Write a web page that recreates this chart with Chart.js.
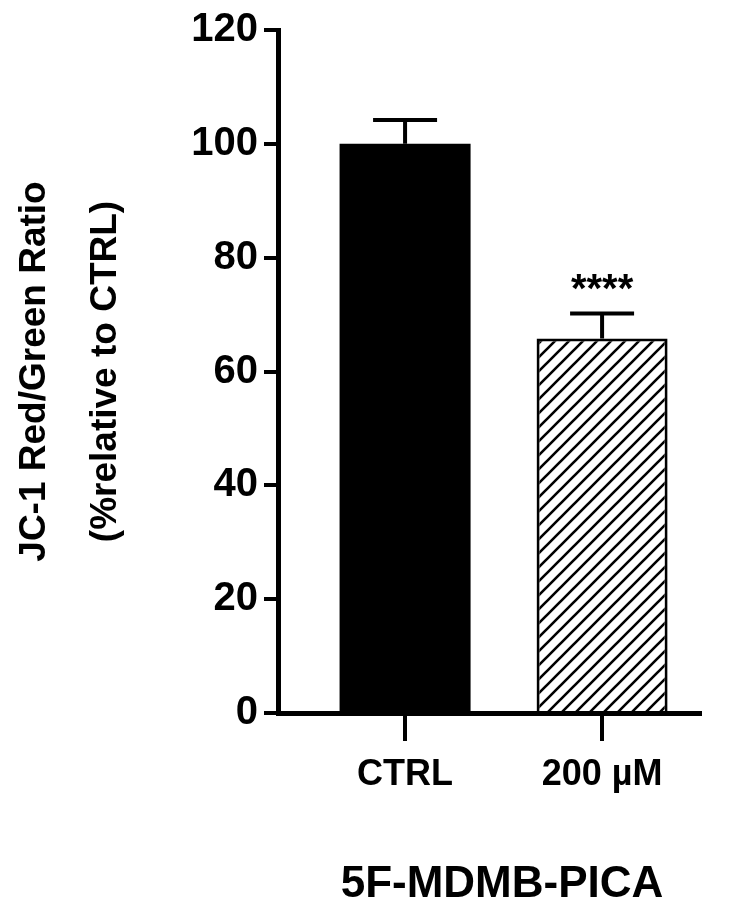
<!DOCTYPE html>
<html><head><meta charset="utf-8">
<script src="https://cdn.jsdelivr.net/npm/chart.js@4"></script>
<style>html,body{margin:0;padding:0;background:#fff}#w{width:745px;height:913px}</style>
</head><body><div id="w"><canvas id="c"></canvas></div>
<script>
const categories = ['CTRL', '200 \u00b5M'];
const means = [100, 65.8];
const errors = [4.2, 4.4];
const significance = ['', '****'];
const yTicks = [0, 20, 40, 60, 80, 100, 120];
const groupTitle = '5F-MDMB-PICA';
const yTitle = ['JC-1 Red/Green Ratio', '(%relative to CTRL)'];

function hatch() {
  const s = 14, c = document.createElement('canvas');
  c.width = s; c.height = s;
  const g = c.getContext('2d');
  g.fillStyle = '#fff'; g.fillRect(0, 0, s, s);
  g.strokeStyle = '#000'; g.lineWidth = 2.6;
  g.beginPath();
  g.moveTo(-2, s + 2); g.lineTo(s + 2, -2);
  g.moveTo(-2, 2); g.lineTo(2, -2);
  g.moveTo(s - 2, s + 2); g.lineTo(s + 2, s - 2);
  g.stroke();
  return document.getElementById('c').getContext('2d').createPattern(c, 'repeat');
}

const F = 'Liberation Sans, Arial, sans-serif';
const extras = {
  id: 'extras',
  afterDatasetsDraw(chart) {
    const ctx = chart.ctx, x = chart.scales.x, y = chart.scales.y;
    ctx.save();
    ctx.strokeStyle = '#000'; ctx.lineWidth = 4; ctx.lineCap = 'butt';
    means.forEach((m, i) => {
      const px = x.getPixelForValue(i), top = y.getPixelForValue(m + errors[i]), b = y.getPixelForValue(m);
      ctx.beginPath();
      ctx.moveTo(px, b); ctx.lineTo(px, top);
      ctx.moveTo(px - 32, top); ctx.lineTo(px + 32, top);
      ctx.stroke();
      if (significance[i]) {
        ctx.fillStyle = '#000'; ctx.font = 'bold 40px ' + F;
        ctx.textAlign = 'center'; ctx.textBaseline = 'middle';
        ctx.fillText(significance[i], px, top - 22);
      }
    });
    ctx.fillStyle = '#000'; ctx.font = 'bold 44px ' + F;
    ctx.textAlign = 'center'; ctx.textBaseline = 'middle';
    ctx.fillText(groupTitle, 502, 885);
    ctx.restore();
  }
};

new Chart(document.getElementById('c'), {
  type: 'bar',
  data: {
    datasets: [{
      data: means.map((v, i) => ({ x: i, y: v })),
      backgroundColor: ['#000', hatch()],
      borderColor: '#000',
      borderWidth: [0, 3],
      borderSkipped: 'bottom',
      barPercentage: 0.665,
      categoryPercentage: 1
    }]
  },
  options: {
    responsive: true, maintainAspectRatio: false, animation: false,
    layout: { padding: { top: 22, right: 45, left: 0, bottom: 0 } },
    plugins: { legend: { display: false }, tooltip: { enabled: false } },
    scales: {
      x: {
        type: 'linear', min: -0.645, max: 1.497, offset: false,
        afterBuildTicks: s => { s.ticks = categories.map((c, i) => ({ value: i })); },
        afterFit: s => { s.height = 200; },
        ticks: { callback: v => categories[v], color: '#000', font: { family: F, size: 36, weight: 'bold' }, padding: 12 },
        grid: { offset: false, drawOnChartArea: false, tickLength: 28, lineWidth: 4, color: '#000' },
        border: { color: '#000', width: 5 }
      },
      y: {
        min: 0, max: 120,
        afterBuildTicks: s => { s.ticks = yTicks.map(v => ({ value: v })); },
        afterFit: s => { s.width = 278; },
        ticks: { color: '#000', font: { family: F, size: 40, weight: 'bold' }, padding: 6 },
        grid: { drawOnChartArea: false, tickLength: 14, lineWidth: 4, color: '#000' },
        border: { color: '#000', width: 5 },
        title: { display: true, text: yTitle, color: '#000', font: { family: F, size: 37, weight: 'bold', lineHeight: 1.9 }, padding: { top: 0, bottom: 0 } }
      }
    }
  },
  plugins: [extras]
});
</script></body></html>
